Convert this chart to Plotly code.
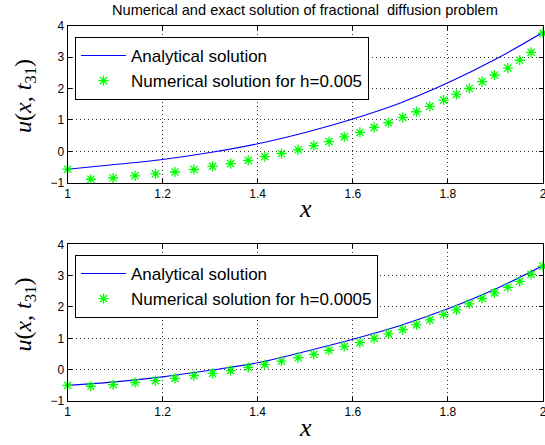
import plotly.graph_objects as go

W, H = 545, 445

# ---- data ----
x_exact = [1.0, 1.1, 1.2, 1.3, 1.4, 1.5, 1.6, 1.7, 1.8, 1.9, 2.0]
u_exact_top = [-0.57, -0.42, -0.26, -0.04, 0.24, 0.60, 1.03, 1.54, 2.18, 2.93, 3.79]
u_exact_bot = [-0.50, -0.39, -0.23, -0.02, 0.22, 0.58, 0.97, 1.41, 1.94, 2.57, 3.32]

x_num = [1.0, 1.049, 1.096, 1.142, 1.185, 1.226, 1.266, 1.305, 1.343, 1.380,
         1.415, 1.450, 1.485, 1.518, 1.550, 1.582, 1.615, 1.645, 1.675, 1.705,
         1.734, 1.762, 1.791, 1.818, 1.845, 1.872, 1.898, 1.926, 1.951, 1.975, 2.0]
u_num_top = [-0.57, -0.89, -0.85, -0.78, -0.72, -0.66, -0.58, -0.48, -0.39, -0.29,
             -0.17, -0.07, 0.05, 0.18, 0.31, 0.46, 0.60, 0.76, 0.91, 1.08,
             1.26, 1.43, 1.63, 1.81, 2.00, 2.22, 2.43, 2.65, 2.90, 3.15, 3.76]
u_num_bot = [-0.50, -0.53, -0.48, -0.41, -0.35, -0.28, -0.19, -0.12, -0.03, 0.07,
             0.16, 0.27, 0.38, 0.49, 0.62, 0.74, 0.86, 1.00, 1.14, 1.28,
             1.43, 1.59, 1.76, 1.91, 2.10, 2.27, 2.45, 2.63, 2.82, 3.04, 3.30]

xticks = [1, 1.2, 1.4, 1.6, 1.8, 2]
xticklabels = ["1", "1.2", "1.4", "1.6", "1.8", "2"]
yticks = [-1, 0, 1, 2, 3, 4]
yticklabels = ["\u22121", "0", "1", "2", "3", "4"]

title_text = "Numerical and exact solution of fractional  diffusion problem"
name_exact = "Analytical solution"
name_top = "Numerical solution for h=0.005"
name_bot = "Numerical solution for h=0.0005"

# ---- layout helpers (pixel -> paper) ----
def px(x):
    return x / W

def py(y):
    return 1 - y / H

fig = go.Figure()

SANS = "Liberation Sans, Arial, Helvetica, sans-serif"
SERIF = "Liberation Serif, Times New Roman, serif"

marker_style = dict(symbol="asterisk-open", size=8.5, color="#00ff00",
                    line=dict(color="#00ff00", width=1.3))

fig.add_trace(go.Scatter(x=x_exact, y=u_exact_top, mode="lines", name=name_exact,
                         line=dict(color="#0000ff", width=1.1, shape="spline"),
                         xaxis="x", yaxis="y", legend="legend"))
fig.add_trace(go.Scatter(x=x_num, y=u_num_top, mode="markers", name=name_top,
                         marker=marker_style,
                         xaxis="x", yaxis="y", legend="legend", cliponaxis=False))
fig.add_trace(go.Scatter(x=x_exact, y=u_exact_bot, mode="lines", name=name_exact,
                         line=dict(color="#0000ff", width=1.1, shape="spline"),
                         xaxis="x2", yaxis="y2", legend="legend2"))
fig.add_trace(go.Scatter(x=x_num, y=u_num_bot, mode="markers", name=name_bot,
                         marker=marker_style,
                         xaxis="x2", yaxis="y2", legend="legend2", cliponaxis=False))

L, R = 67.5, 543.0
top_y0, top_y1 = 25.7, 182.7
bot_y0, bot_y1 = 244.3, 401.0

axis_common = dict(showline=True, linecolor="black", linewidth=1, mirror="ticks",
                   ticks="inside", ticklen=4, tickcolor="black",
                   showgrid=True, gridcolor="#333333", gridwidth=1, griddash="1px,3px",
                   zeroline=False, ticklabeloverflow="allow",
                   tickfont=dict(family=SANS, size=12, color="black"))

legend_common = dict(xanchor="left", yanchor="top", bgcolor="white",
                     bordercolor="black", borderwidth=1, itemwidth=45,
                     font=dict(family=SANS, size=17, color="black"), tracegroupgap=0)

fig.update_layout(
    width=W, height=H, autosize=False,
    margin=dict(l=0, r=0, t=0, b=0, autoexpand=False),
    paper_bgcolor="white", plot_bgcolor="white",
    showlegend=True,
    xaxis=dict(domain=[px(L), px(R)], range=[1, 2], tickvals=xticks, ticktext=xticklabels,
               anchor="y", **axis_common),
    yaxis=dict(domain=[py(top_y1), py(top_y0)], range=[-1, 4], tickvals=yticks,
               ticktext=yticklabels, anchor="x", **axis_common),
    xaxis2=dict(domain=[px(L), px(R)], range=[1, 2], tickvals=xticks, ticktext=xticklabels,
                anchor="y2", **axis_common),
    yaxis2=dict(domain=[py(bot_y1), py(bot_y0)], range=[-1, 4], tickvals=yticks,
                ticktext=yticklabels, anchor="x2", **axis_common),
    legend=dict(x=px(75), y=py(37), **legend_common),
    legend2=dict(x=px(75), y=py(255), **legend_common),
)

annotations = [
    dict(text=title_text, x=px(305), y=py(10), xref="paper", yref="paper",
         showarrow=False, xanchor="center", yanchor="middle",
         font=dict(family=SANS, size=14.6, color="black")),
]
for yc in (96, 96 + (bot_y0 - top_y0)):
    annotations.append(dict(text="<i>u</i>(<i>x</i>, <i>t</i><sub>31</sub>)",
                            x=px(25), y=py(yc), xref="paper", yref="paper",
                            showarrow=False, textangle=-90, xanchor="center", yanchor="middle",
                            font=dict(family=SERIF, size=24, color="black")))
for yc in (209, 209 + (bot_y0 - top_y0)):
    annotations.append(dict(text="<i>x</i>", x=px(305), y=py(yc), xref="paper", yref="paper",
                            showarrow=False, xanchor="center", yanchor="middle",
                            font=dict(family=SERIF, size=26, color="black")))
fig.update_layout(annotations=annotations)

fig.write_html("out.html",
               config={"displayModeBar": False, "responsive": False},
               post_script="document.body.style.margin='0';document.body.style.overflow='hidden';")
